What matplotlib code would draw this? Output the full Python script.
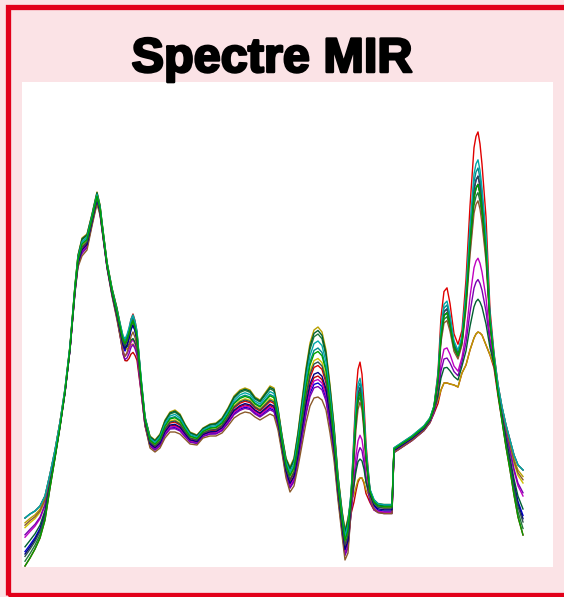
"""Spectre MIR: overlay of several mid-infrared spectra."""

import numpy as np
import matplotlib
matplotlib.use("Agg")
import matplotlib.pyplot as plt
import matplotlib.patches as mpatches
import matplotlib.patheffects as pe

# spectral point positions (arbitrary index along the wavenumber axis)
points = [25, 30, 35, 40, 45, 50, 55, 60, 65, 70, 75, 78, 82, 87, 92, 94, 97,
          100, 102, 107, 112, 117, 121, 123, 125, 127, 129, 131, 133, 135, 137,
          141, 145, 150, 155, 160, 165, 170, 175, 180, 185, 190, 197, 203,
          210, 216, 222, 228, 234, 240, 245, 250, 255, 260, 265, 270, 274,
          278, 282, 286, 290, 294, 298, 302, 306, 310, 314, 318, 322, 326,
          330, 334, 338, 342, 345, 348, 351, 354, 356, 358, 360, 362, 364,
          366, 370, 374, 378, 384, 390, 392, 394, 400, 406, 412, 418, 424,
          430, 434, 438, 441, 444, 447, 450, 454, 458, 462, 466, 470, 474,
          476, 478, 480, 482, 486, 490, 494, 498, 502, 506, 510, 514, 518, 523]

# reference spectrum (upper lines of the bundle)
base = [49, 53, 56, 61, 71, 93, 117, 145, 179, 222, 282, 312, 329, 333, 353, 362, 375,
        362, 345, 305, 279, 259, 242, 234, 231, 235, 241, 249, 253, 247, 237,
        192, 152, 131, 127, 133, 147, 155, 157, 153, 143, 135, 132, 139,
        143, 144, 149, 159, 171, 177, 179, 177, 170, 167, 174, 181, 179,
        159, 132, 109, 100, 109, 135, 167, 199, 224, 237, 240, 235, 217,
        182, 142, 92, 57, 37, 49, 77, 127, 160, 179, 184, 174, 150,
        117, 79, 69, 65, 64, 64, 64, 120, 124, 128, 132, 137, 142,
        150, 162, 192, 237, 259, 262, 249, 224, 215, 229, 272, 335, 385,
        395, 399, 389, 372, 327, 249, 212, 182, 160, 142, 127, 112, 102, 97]

# drop of the lines in the lower group on the sharp bands
sharp_drop = [0, 0, 0, 0, 0, 0, 0, 0, 0, 0, 0, 0, 0, 0, 0, 0, 0,
              0, 0, 0, 0, 0, 5, 9, 12, 17, 22, 27, 30, 27, 22,
              8, 3, 0, 0, 0, 0, 0, 0, 0, 0, 0, 0, 0,
              0, 0, 0, 0, 0, 0, 0, 0, 0, 0, 0, 0, 0,
              0, 0, 0, 0, 0, 0, 0, 0, 0, 0, 0, 0, 0,
              0, 0, 0, 0, 0, 0, 10, 55, 80, 92, 95, 85, 65,
              40, 9, 5, 3, 3, 3, 3, 2, 2, 2, 2, 2, 2,
              2, 5, 25, 60, 75, 78, 66, 42, 35, 35, 70, 118, 156,
              162, 164, 155, 140, 105, 37, 10, 3, 0, 0, 0, 0, 0, 0]

# spread of the bundle on the broad bands
broad_drop = [0, 0, 0, 0, 0, 0, 0, 0, 3, 4, 8, 12, 18, 16, 12, 12, 12,
              10, 8, 6, 8, 12, 15, 17, 18, 17, 15, 13, 12, 12, 12,
              12, 10, 12, 12, 14, 18, 20, 22, 20, 15, 12, 10, 10,
              12, 13, 15, 18, 22, 24, 24, 23, 20, 20, 24, 28, 28,
              22, 18, 20, 25, 28, 35, 45, 55, 63, 68, 70, 68, 60,
              48, 35, 25, 25, 30, 35, 20, 10, 6, 3, 0, 0, 2,
              5, 8, 10, 10, 10, 10, 10, 5, 5, 5, 5, 5, 5,
              5, 5, 5, 0, 0, 0, 0, 0, 0, 0, 0, 0, 0,
              0, 0, 0, 0, 0, 0, 0, 0, 0, 0, 0, 0, 0, 0]

# spread at both ends of the range
tail_drop = [48, 44, 38, 32, 24, 14, 8, 5, 3, 2, 0, 0, 0, 0, 0, 0, 0,
             0, 0, 0, 0, 0, 0, 0, 0, 0, 0, 0, 0, 0, 0,
             0, 0, 0, 0, 0, 0, 0, 0, 0, 0, 0, 0, 0,
             0, 0, 0, 0, 0, 0, 0, 0, 0, 0, 0, 0, 0,
             0, 0, 0, 0, 0, 0, 0, 0, 0, 0, 0, 0, 0,
             0, 0, 0, 0, 0, 0, 0, 0, 0, 0, 0, 0, 0,
             0, 0, 0, 0, 0, 0, 0, 0, 0, 0, 0, 0, 0,
             0, 0, 0, 0, 0, 0, 0, 0, 0, 0, 0, 0, 0,
             0, 0, 0, 0, 0, 0, 3, 8, 14, 22, 30, 40, 52, 65]

# per-sample scores on (sharp, broad, tail) and colours
sample_colors = ["#e00000", "#c00000", "#0000d0", "#008b8b", "#1f7a3a",
                 "#b8a000", "#d0c000", "#c000c0", "#7a00b0", "#006030",
                 "#8b5a2b", "#000080", "#2f4f4f", "#00a8a8", "#00a000"]
sharp_score = [-0.22, 1.0, 0.05, 0.0, 0.15, 1.0, 0.1, 0.55, 0.68, 0.8,
               0.2, 0.1, 0.05, -0.05, 0.1]
broad_score = [0.55, 0.7, 0.8, 0.3, 0.1, 0.0, 0.45, 0.75, 0.85, 0.05,
               1.0, 0.65, 0.5, 0.2, 0.35]
tail_score = [0.0, 1.0, 0.7, 0.0, 0.9, 0.1, 0.2, 0.4, 0.35, 0.6,
              0.15, 0.75, 0.8, 0.0, 1.0]

W, H = 564, 597
fig = plt.figure(figsize=(W / 100, H / 100), dpi=100)
fig.patch.set_facecolor("#fbe3e6")

# red frame (right side runs off the image)
frame = mpatches.Rectangle((7.5 / W, 2.5 / H), 1.2, (H - 9) / H,
                           transform=fig.transFigure, facecolor="none",
                           edgecolor="#e2001a", linewidth=3.8)
fig.patches.append(frame)

ax = fig.add_axes([22 / W, 30 / H, 531 / W, 485 / H])
ax.set_facecolor("white")

x = np.array(points)
for col, s1, s2, s3 in zip(sample_colors, sharp_score, broad_score, tail_score):
    y = (np.array(base) - s1 * np.array(sharp_drop)
         - s2 * np.array(broad_drop) - s3 * np.array(tail_drop))
    ax.plot(x, y, color=col, linewidth=1.0)

ax.set_xlim(22, 553)
ax.set_ylim(0, 485)
ax.set_xticks([])
ax.set_yticks([])
for sp in ax.spines.values():
    sp.set_visible(False)

fig.text(272 / W, (H - 72) / H, "Spectre MIR", ha="center", va="baseline",
         fontsize=35, fontweight="bold", family="Liberation Sans",
         color="black",
         path_effects=[pe.withStroke(linewidth=1.8, foreground="black")])

fig.savefig("out.png", dpi=100, facecolor=fig.get_facecolor())
